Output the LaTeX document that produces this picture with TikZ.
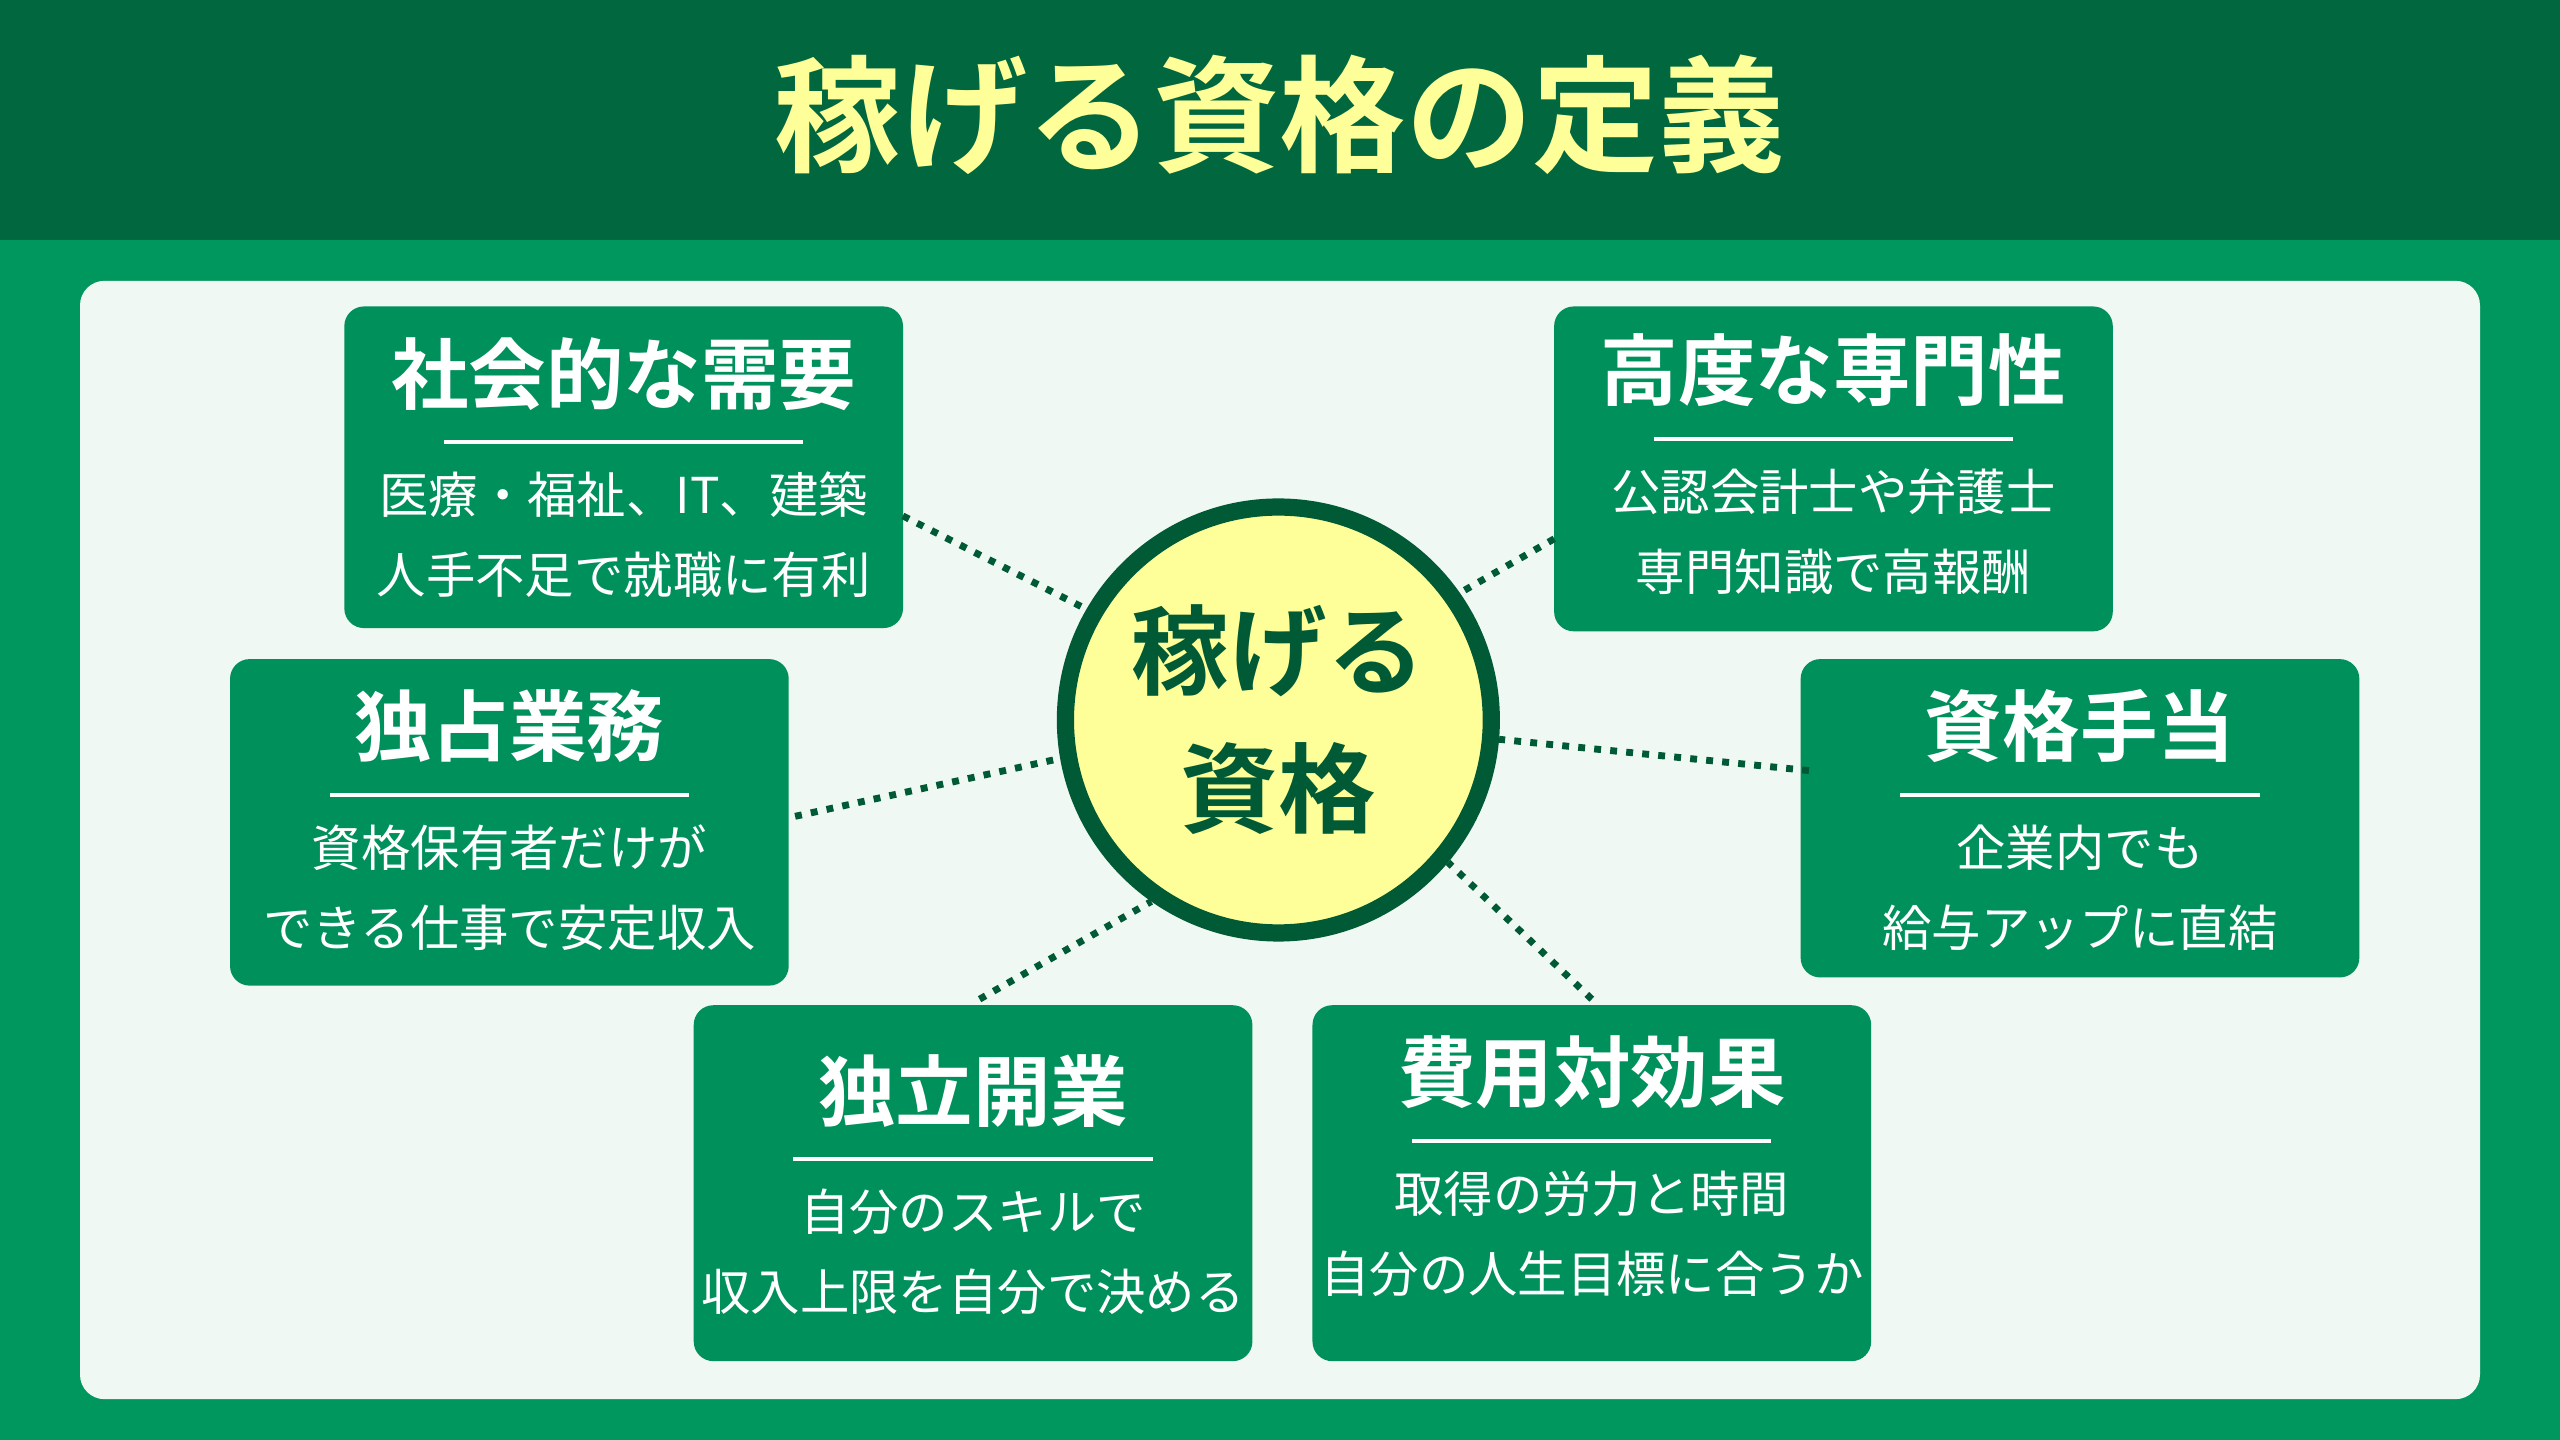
\documentclass[tikz,border=0pt]{standalone}
\usepackage{fontspec}
\setmainfont{Noto Sans CJK JP}[BoldFont={Noto Sans CJK JP Bold}]
\definecolor{bgg}{HTML}{00975F}
\definecolor{bandg}{HTML}{00673F}
\definecolor{boxg}{HTML}{00905C}
\definecolor{panel}{HTML}{F0F8F4}
\definecolor{darkg}{HTML}{005A36}
\definecolor{pale}{HTML}{FFFF99}
\tikzset{
  qbox/.style={fill=boxg, rounded corners=0.12cm, minimum width=3.42cm, inner sep=0pt},
  qtitle/.style={text=white, font=\bfseries\fontsize{13.5}{15}\selectfont},
  qtext/.style={text=white, font=\fontsize{8.6}{10}\selectfont},
  qrule/.style={white, line width=0.7pt},
  dots/.style={darkg, line width=1.2pt, dash pattern=on 1.2pt off 1.6pt}
}
% box: name, center x, top y, height, title, line 1, line 2, shift
\newcommand{\qbox}[8]{%
  \node[qbox, minimum height=#4*0.01cm, anchor=north] (#1) at (#2,#3) {};
  \node[qtitle] (#1t) at (#2,#3+42+#8) {#5};
  \draw[qrule] (#2-110,#3+84+#8) -- (#2+110,#3+84+#8);
  \node[qtext] (#1a) at (#2,#3+116+#8) {#6};
  \node[qtext] (#1b) at (#2,#3+165+#8) {#7};}
\begin{document}
\begin{tikzpicture}[x=0.01cm, y=-0.01cm]
\fill[bgg] (0,0) rectangle (1568,882);
\fill[bandg] (0,0) rectangle (1568,147);
\node[text=pale, font=\bfseries\fontsize{22}{26}\selectfont] (title) at (784,70) {稼げる資格の定義};
\fill[panel, rounded corners=0.15cm] (49,172) rectangle (1519,857);

\node[circle, fill=pale, draw=darkg, line width=3pt, minimum size=2.4cm,
  align=center, text=darkg, font=\bfseries\fontsize{17}{24}\selectfont] (c) at (783,441) {稼げる\\資格};

\qbox{soc}{382}{187}{197}{社会的な需要}{医療・福祉、IT、建築}{人手不足で就職に有利}{0}
\qbox{exp}{1123}{187}{199}{高度な専門性}{公認会計士や弁護士}{専門知識で高報酬}{-2}
\qbox{mon}{312}{403}{200}{独占業務}{資格保有者だけが}{できる仕事で安定収入}{0}
\qbox{alw}{1274}{403}{195}{資格手当}{企業内でも}{給与アップに直結}{0}
\qbox{ind}{596}{615}{218}{独立開業}{自分のスキルで}{収入上限を自分で決める}{11}
\qbox{cost}{975}{615}{218}{費用対効果}{取得の労力と時間}{自分の人生目標に合うか}{0}

\coordinate (p1) at (553,316);
\coordinate (p2) at (952,330);
\coordinate (p3) at (487,500);
\coordinate (p4) at (1108,472);
\coordinate (p5) at (600,612);
\coordinate (p6) at (975,612);
\draw[dots] (p1) -- (c.150);
\draw[dots] (p2) -- (c.35);
\draw[dots] (p3) -- (c.190);
\draw[dots] (p4) -- (c.-5);
\draw[dots] (p5) -- (c.235);
\draw[dots] (p6) -- (c.-40);
\end{tikzpicture}
\end{document}
